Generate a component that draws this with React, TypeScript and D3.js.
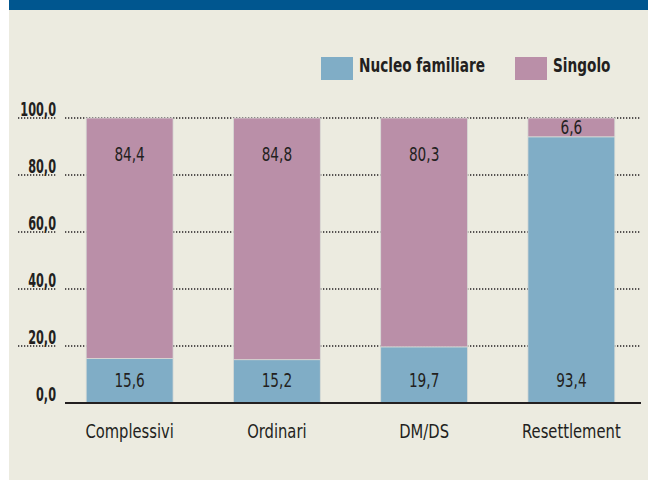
import React from "react";
import * as d3 from "d3";

const categories = ["Complessivi", "Ordinari", "DM/DS", "Resettlement"];
const nucleo = [15.6, 15.2, 19.7, 93.4];
const singolo = [84.4, 84.8, 80.3, 6.6];
const seriesNames = ["Nucleo familiare", "Singolo"];
const yTicks = [0, 20, 40, 60, 80, 100];

const W = 648;
const H = 480;
const BLUE = "#80adc6";
const PINK = "#ba8fa8";
const FONT = "'DejaVu Sans Condensed', 'Liberation Sans Narrow', sans-serif";

const fmt = (v: number) => v.toFixed(1).replace(".", ",");

// squeeze text horizontally around an anchor x
const squeeze = (ax: number, k: number) => `translate(${ax},0) scale(${k},1) translate(${-ax},0)`;

export default function App() {
  // x: bands for the four groups
  const x = d3
    .scaleBand()
    .domain(categories)
    .range([56, 645])
    .paddingInner(0.41)
    .paddingOuter(0.205);

  // y: percentages
  const y = d3.scaleLinear().domain([0, 100]).range([403, 118]);

  const rows = categories.map((c, i) => ({ cat: c, nucleo: nucleo[i], singolo: singolo[i] }));
  const stack = d3.stack<any>().keys(["nucleo", "singolo"])(rows);
  const colors = [BLUE, PINK];

  return (
    <div style={{ position: "fixed", left: 0, top: 0 }}>
      <svg width={W} height={H} style={{ display: "block", fontFamily: FONT }}>
        <rect x={0} y={0} width={W} height={H} fill="#ffffff" />
        <rect x={9} y={0} width={W - 9} height={H} fill="#ecebe0" />
        <rect x={9} y={0} width={W - 9} height={10} fill="#00568f" />

        {/* legend */}
        {seriesNames.map((name, i) => {
          const lx = i === 0 ? 321 : 515;
          return (
            <g key={name}>
              <rect x={lx} y={57} width={32} height={23} fill={colors[i]} />
              <text
                x={lx + 38}
                y={72}
                fontSize={19}
                fontWeight="bold"
                fill="#231f20"
                transform={squeeze(lx + 38, 0.8)}
              >
                {name}
              </text>
            </g>
          );
        })}

        {/* gridlines + y labels */}
        {yTicks.map((t) => (
          <g key={t}>
            {t > 0 && (
              <line
                x1={65}
                x2={640}
                y1={y(t)}
                y2={y(t)}
                stroke="#231f20"
                strokeWidth={1.3}
                strokeDasharray="1.3 1.7"
              />
            )}
            <line
              x1={18}
              x2={57}
              y1={y(t)}
              y2={y(t)}
              stroke="#231f20"
              strokeWidth={1.3}
              strokeDasharray="1.3 1.7"
              opacity={t > 0 ? 1 : 0}
            />
            <text
              x={56}
              y={y(t) - 2}
              textAnchor="end"
              fontSize={19}
              fontWeight="bold"
              fill="#231f20"
              transform={squeeze(56, 0.66)}
            >
              {fmt(t)}
            </text>
          </g>
        ))}

        {/* bars */}
        {stack.map((s, si) => (
          <g key={s.key} fill={colors[si]}>
            {s.map((d, i) => (
              <rect
                key={categories[i]}
                x={x(categories[i])}
                y={y(d[1])}
                width={x.bandwidth()}
                height={y(d[0]) - y(d[1])}
                stroke="#d9dbd6"
                strokeWidth={0.8}
              />
            ))}
          </g>
        ))}

        {/* value labels */}
        {stack.map((s, si) =>
          s.map((d, i) => {
            const h = y(d[0]) - y(d[1]);
            const cx = (x(categories[i]) as number) + x.bandwidth() / 2;
            let ly;
            if (si === 0) ly = y(0) - 16;
            else ly = h < 50 ? (y(d[0]) + y(d[1])) / 2 + 7 : y(100) + 43;
            return (
              <text
                key={s.key + i}
                x={cx}
                y={ly}
                textAnchor="middle"
                fontSize={19}
                fill="#231f20"
                transform={squeeze(cx, 0.8)}
              >
                {fmt(d[1] - d[0])}
              </text>
            );
          })
        )}

        {/* baseline */}
        <line x1={65} x2={641} y1={y(0)} y2={y(0)} stroke="#231f20" strokeWidth={2} />

        {/* x labels */}
        {categories.map((c) => {
          const cx = (x(c) as number) + x.bandwidth() / 2;
          return (
            <text
              key={c}
              x={cx}
              y={438}
              textAnchor="middle"
              fontSize={20}
              fill="#231f20"
              transform={squeeze(cx, 0.82)}
            >
              {c}
            </text>
          );
        })}
      </svg>
    </div>
  );
}
